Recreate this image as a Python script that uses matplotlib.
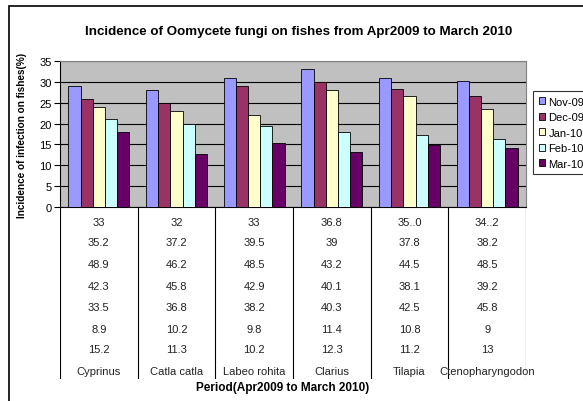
import matplotlib.pyplot as plt
from matplotlib.patches import Rectangle
import numpy as np

plt.rcParams['font.family'] = ['Liberation Sans', 'DejaVu Sans']

fishes = ['Cyprinus', 'Catla catla', 'Labeo rohita', 'Clarius', 'Tilapia', 'Ctenopharyngodon']
months = ['Nov-09', 'Dec-09', 'Jan-10', 'Feb-10', 'Mar-10']
nov09 = [29, 28, 31, 33, 31, 30.2]
dec09 = [26, 25, 29, 30, 28.4, 26.6]
jan10 = [24, 23, 22, 28, 26.6, 23.6]
feb10 = [21, 20, 19.5, 18, 17.3, 16.3]
mar10 = [18, 12.8, 15.3, 13.3, 14.8, 14.2]
colors = ['#9999FF', '#993366', '#FFFFCC', '#CCFFFF', '#660066']

# table rows under the chart, as printed
table_rows = [
    ['33', '32', '33', '36.8', '35..0', '34..2'],
    ['35.2', '37.2', '39.5', '39', '37.8', '38.2'],
    ['48.9', '46.2', '48.5', '43.2', '44.5', '48.5'],
    ['42.3', '45.8', '42.9', '40.1', '38.1', '39.2'],
    ['33.5', '36.8', '38.2', '40.3', '42.5', '45.8'],
    ['8.9', '10.2', '9.8', '11.4', '10.8', '9'],
    ['15.2', '11.3', '10.2', '12.3', '11.2', '13'],
]

W, H = 583, 402
fig = plt.figure(figsize=(W / 100, H / 100), dpi=100)

def px_axes(x0, y0, x1, y1):
    return fig.add_axes([x0 / W, 1 - y1 / H, (x1 - x0) / W, (y1 - y0) / H])

ax = px_axes(60, 62, 526, 208)
ax.set_facecolor('#C0C0C0')
x = np.arange(len(fishes))
bw = 0.157
series = [nov09, dec09, jan10, feb10, mar10]
for i, (vals, lab, c) in enumerate(zip(series, months, colors)):
    ax.bar(x + (i - 2) * bw, vals, bw, color=c, edgecolor='black', linewidth=0.6, label=lab, zorder=3)

ax.set_xlim(-0.5, 5.5)
ax.set_ylim(0, 35)
ax.set_yticks(range(0, 36, 5))
ax.yaxis.grid(True, color='black', linewidth=0.8, zorder=0)
ax.set_axisbelow(True)
ax.set_xticks([])
ax.tick_params(axis='y', direction='out', length=4, width=0.8, labelsize=8, pad=2)
for s in ['top', 'right']:
    ax.spines[s].set_color('#808080')
ax.spines['left'].set_linewidth(0.8)
ax.spines['bottom'].set_linewidth(0.8)
ax.set_ylabel('Incidence of infection on fishes(%)', fontsize=7.2, fontweight='bold')
ax.yaxis.set_label_coords(-0.07, 0.5)

# data table under the plot, y in pixels
tab = px_axes(60, 208, 526, 380)
tab.set_xlim(-0.5, 5.5)
tab.set_ylim(380, 208)
tab.axis('off')
for b in np.arange(-0.5, 6, 1):
    tab.axvline(b, color='black', linewidth=0.8)
row_y = [223, 243, 265, 287, 308, 330, 350]
for ry, row in zip(row_y, table_rows):
    for j, val in enumerate(row):
        tab.text(j, ry, val, ha='center', va='center', fontsize=8, color='#222222')
for j, name in enumerate(fishes):
    tab.text(j, 372, name, ha='center', va='center', fontsize=8, color='#222222')

fig.text(283 / W, 1 - 388 / H, 'Period(Apr2009 to March 2010)', ha='center', va='center',
         fontsize=8.5, fontweight='bold')
fig.text(299 / W, 1 - 32 / H, 'Incidence of Oomycete fungi on fishes from Apr2009 to March 2010',
         ha='center', va='center', fontsize=9.6, fontweight='bold')

leg = fig.legend(loc='upper left', bbox_to_anchor=(533 / W, 1 - 92 / H), fontsize=8,
                 frameon=True, fancybox=False, edgecolor='black', handlelength=0.6,
                 handleheight=0.6, handletextpad=0.3, labelspacing=0.5, borderpad=0.5,
                 borderaxespad=0)
leg.get_frame().set_linewidth(0.8)

fig.add_artist(Rectangle((9 / W, -0.05), 1.1, 1.05 - 7 / H, transform=fig.transFigure,
                         fill=False, edgecolor='black', linewidth=1.2))

fig.savefig('out.png', dpi=100)
